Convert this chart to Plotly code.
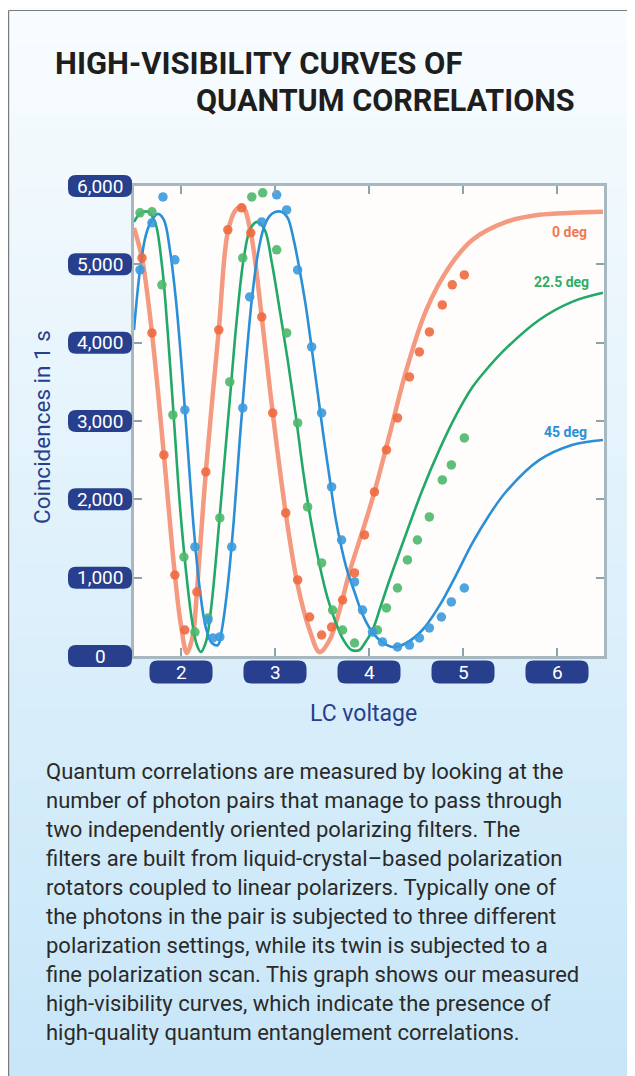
import plotly.graph_objects as go

# ---------------- data ----------------
# fitted curve, 0 deg
fit0_x = [1.50, 1.585, 1.691, 1.818, 1.935, 1.999, 2.063, 2.126, 2.169, 2.264, 2.402, 2.498, 2.583, 2.657,
          2.742, 2.859, 2.976, 3.114, 3.241, 3.368, 3.474, 3.581, 3.687, 3.793, 3.952, 4.058, 4.218, 4.398,
          4.610, 4.855, 5.099, 5.460, 5.810, 6.160, 6.489]
fit0_y = [5465, 5080, 4125, 2567, 1034, 396, 38, 268, 817, 2350, 4163, 5414, 5695, 5734,
          5402, 4329, 3103, 1826, 907, 332, 51, 204, 587, 1073, 1673, 2094, 2822, 3652,
          4418, 4968, 5312, 5542, 5632, 5657, 5670]
# measured points, 0 deg
pts0_x = [1.585, 1.691, 1.818, 1.935, 2.041, 2.169, 2.264, 2.402, 2.498, 2.646, 2.742, 2.859, 2.976, 3.114,
          3.241, 3.368, 3.496, 3.602, 3.719, 3.846, 3.952, 4.058, 4.186, 4.303, 4.430, 4.536, 4.643, 4.780,
          4.886, 5.014]
pts0_y = [5082, 4125, 2567, 1034, 332, 817, 2350, 4163, 5440, 5721, 5402, 4329, 3103, 1826,
          971, 498, 268, 370, 715, 1060, 1545, 2094, 2631, 3039, 3563, 3882, 4137, 4482,
          4738, 4865]

# fitted curve, 22.5 deg
fit22_x = [1.50, 1.574, 1.649, 1.723, 1.797, 1.861, 1.925, 1.988, 2.052, 2.116, 2.169, 2.211, 2.265, 2.318,
           2.381, 2.445, 2.519, 2.593, 2.668, 2.742, 2.816, 2.891, 2.965, 3.050, 3.135, 3.220, 3.305, 3.390,
           3.474, 3.559, 3.644, 3.729, 3.814, 3.899, 3.942, 4.037, 4.122, 4.218, 4.398, 4.568, 4.748, 4.929,
           5.099, 5.280, 5.460, 5.810, 6.160, 6.489]
fit22_y = [5542, 5657, 5670, 5542, 4993, 4099, 3014, 1928, 1098, 460, 140, 51, 179, 587,
           1354, 2248, 3269, 4291, 5082, 5466, 5542, 5440, 5031, 4418, 3780, 3078, 2311, 1673,
           1162, 741, 434, 204, 77, 77, 140, 332, 626, 970, 1571, 2120, 2631, 3080,
           3430, 3700, 3930, 4290, 4521, 4636]
# measured points, 22.5 deg
pts22_x = [1.564, 1.691, 1.797, 1.914, 2.031, 2.148, 2.286, 2.413, 2.519, 2.657, 2.753, 2.869, 3.018, 3.124,
           3.241, 3.347, 3.496, 3.613, 3.719, 3.846, 4.090, 4.186, 4.303, 4.409, 4.515, 4.642, 4.780, 4.876,
           5.014]
pts22_y = [5657, 5670, 4738, 3078, 1264, 306, 485, 1762, 3499, 5082, 5861, 5913, 5185, 4125,
           2975, 1903, 1188, 587, 332, 166, 332, 613, 868, 1226, 1481, 1775, 2248, 2439,
           2784]

# fitted curve, 45 deg
fit45_x = [1.50, 1.564, 1.627, 1.691, 1.755, 1.818, 1.882, 1.946, 2.010, 2.073, 2.137, 2.201, 2.265, 2.328,
           2.392, 2.434, 2.498, 2.562, 2.625, 2.689, 2.753, 2.816, 2.880, 2.944, 3.008, 3.071, 3.135, 3.199,
           3.262, 3.326, 3.390, 3.453, 3.517, 3.581, 3.644, 3.708, 3.772, 3.846, 3.921, 4.006, 4.112, 4.250,
           4.377, 4.568, 4.748, 4.929, 5.099, 5.280, 5.460, 5.810, 6.160, 6.489]
fit45_y = [4163, 4929, 5376, 5568, 5644, 5568, 5185, 4546, 3652, 2631, 1609, 843, 358, 166,
           140, 332, 907, 1737, 2758, 3716, 4546, 5121, 5466, 5619, 5670, 5670, 5593, 5312,
           4929, 4482, 3933, 3371, 2797, 2273, 1762, 1379, 1073, 817, 562, 358, 204, 115,
           153, 332, 640, 1040, 1440, 1800, 2100, 2500, 2694, 2758]
# measured points, 45 deg
pts45_x = [1.564, 1.691, 1.808, 1.935, 2.041, 2.148, 2.286, 2.339, 2.413, 2.540, 2.657, 2.731, 2.859, 3.018,
           3.124, 3.241, 3.390, 3.496, 3.602, 3.708, 3.846, 3.931, 4.037, 4.143, 4.303, 4.430, 4.536, 4.642,
           4.770, 4.876, 5.014]
pts45_y = [4929, 5530, 5861, 5057, 3141, 1392, 460, 230, 243, 1392, 3167, 4584, 5542, 5887,
           5695, 4929, 3946, 3103, 2158, 1481, 945, 587, 306, 179, 115, 140, 230, 358,
           498, 690, 868]

series_names = ["0 deg", "22.5 deg", "45 deg"]
label_x = [6.34, 6.36, 6.34]
label_y = [5415, 4776, 2860]

x_ticks = [2, 3, 4, 5, 6]
x_tick_labels = ["2", "3", "4", "5", "6"]
y_ticks = [0, 1000, 2000, 3000, 4000, 5000, 6000]
y_tick_labels = ["0", "1,000", "2,000", "3,000", "4,000", "5,000", "6,000"]

title_lines = ["HIGH-VISIBILITY CURVES OF", "QUANTUM CORRELATIONS"]
x_title = "LC voltage"
y_title = "Coincidences in 1 s"
caption_lines = [
    "Quantum correlations are measured by looking at the",
    "number of photon pairs that manage to pass through",
    "two independently oriented polarizing filters. The",
    "filters are built from liquid-crystal\u2013based polarization",
    "rotators coupled to linear polarizers. Typically one of",
    "the photons in the pair is subjected to three different",
    "polarization settings, while its twin is subjected to a",
    "fine polarization scan. This graph shows our measured",
    "high-visibility curves, which indicate the presence of",
    "high-quality quantum entanglement correlations.",
]

# ---------------- styling / layout ----------------
W, H = 635, 1076
OFF = 8                      # page margin offset of the rendered figure
L, R, T, B = 126, 39, 178, 428
PW, PH = W - L - R, H - T - B
X_RANGE = [1.5, 6.5]
Y_RANGE = [0, 6000]

NAVY = "#273f8c"
FONT = "Roboto"
line_colors = ["#f39a80", "#22a96a", "#2b8fd8"]
line_widths = [4.5, 2.6, 2.6]
marker_colors = ["#ee6a40", "#4cb86b", "#3b9ade"]
label_colors = ["#f07a55", "#2fae6a", "#2b8fd8"]


def px2x(sx):
    """screen x pixel -> paper x"""
    return (sx - OFF - L) / PW


def py2y(sy):
    """screen y pixel -> paper y"""
    return (H - B - (sy - OFF)) / PH


def val2paper_y(v):
    return (v - Y_RANGE[0]) / (Y_RANGE[1] - Y_RANGE[0])


fig = go.Figure()

fits = [(fit0_x, fit0_y), (fit22_x, fit22_y), (fit45_x, fit45_y)]
pts = [(pts0_x, pts0_y), (pts22_x, pts22_y), (pts45_x, pts45_y)]

for i in range(3):
    fig.add_trace(go.Scatter(x=fits[i][0], y=fits[i][1], mode="lines",
                             line=dict(color=line_colors[i], width=line_widths[i], shape="spline", smoothing=1.0),
                             showlegend=False, hoverinfo="skip"))
for i in range(3):
    fig.add_trace(go.Scatter(x=pts[i][0], y=pts[i][1], mode="markers",
                             marker=dict(color=marker_colors[i], size=9.5, opacity=0.9),
                             showlegend=False, name=series_names[i]))

shapes = []
# background gradient
N = 60
top_rgb = (248, 252, 254)
bot_rgb = (199, 230, 248)
for k in range(N):
    t = k / (N - 1)
    c = tuple(int(round(top_rgb[j] + (bot_rgb[j] - top_rgb[j]) * t)) for j in range(3))
    y0 = k * H / N + OFF
    y1 = (k + 1) * H / N + 1 + OFF
    shapes.append(dict(type="rect", xref="paper", yref="paper", layer="below",
                       x0=px2x(0), x1=px2x(W + 10), y0=py2y(y1), y1=py2y(y0),
                       line=dict(width=0), fillcolor="rgb(%d,%d,%d)" % c))
# plot area background
shapes.append(dict(type="rect", xref="paper", yref="paper", layer="below",
                   x0=0, x1=1, y0=0, y1=1, line=dict(width=0), fillcolor="#fffdfb"))
# outer frame lines
shapes.append(dict(type="line", xref="paper", yref="paper", x0=px2x(8.6), x1=px2x(W + 12),
                   y0=py2y(10.5), y1=py2y(10.5), line=dict(color="#7a7a7a", width=1.2)))
shapes.append(dict(type="line", xref="paper", yref="paper", x0=px2x(8.6), x1=px2x(8.6),
                   y0=py2y(10.5), y1=py2y(H + 12), line=dict(color="#7a7a7a", width=1.2)))


def pill(w, h, r):
    x0, x1 = -w / 2, w / 2
    y0, y1 = -h / 2, h / 2
    return ("M %f,%f L %f,%f Q %f,%f %f,%f L %f,%f Q %f,%f %f,%f L %f,%f Q %f,%f %f,%f "
            "L %f,%f Q %f,%f %f,%f Z") % (
        x0 + r, y0, x1 - r, y0, x1, y0, x1, y0 + r,
        x1, y1 - r, x1, y1, x1 - r, y1,
        x0 + r, y1, x0, y1, x0, y1 - r,
        x0, y0 + r, x0, y0, x0 + r, y0)


annotations = []
# x tick pills (centre 16 px below the axis)
for v, lab in zip(x_ticks, x_tick_labels):
    shapes.append(dict(type="path", xref="x", yref="paper", xsizemode="pixel", ysizemode="pixel",
                       xanchor=v, yanchor=py2y(672), path=pill(63, 23, 8),
                       fillcolor=NAVY, line=dict(width=0), layer="above"))
    annotations.append(dict(x=v, xref="x", y=py2y(672), yref="paper", text=lab, showarrow=False,
                            font=dict(family=FONT, size=19, color="white"), xanchor="center", yanchor="middle"))
# y tick pills (centre 34 px left of the axis)
for v, lab in zip(y_ticks, y_tick_labels):
    shapes.append(dict(type="path", xref="paper", yref="paper", xsizemode="pixel", ysizemode="pixel",
                       xanchor=px2x(100), yanchor=val2paper_y(v), path=pill(64, 22, 8),
                       fillcolor=NAVY, line=dict(width=0), layer="above"))
    annotations.append(dict(x=px2x(100), xref="paper", y=v, yref="y", text=lab, showarrow=False,
                            font=dict(family=FONT, size=19, color="white"), xanchor="center", yanchor="middle"))

# series labels
for i in range(3):
    annotations.append(dict(x=label_x[i], y=label_y[i], xref="x", yref="y", text="<b>%s</b>" % series_names[i],
                            showarrow=False, xanchor="right", yanchor="middle",
                            font=dict(family=FONT, size=14, color=label_colors[i])))

# titles
annotations.append(dict(x=px2x(53), y=py2y(64), xref="paper", yref="paper", text="<b>%s</b>" % title_lines[0],
                        showarrow=False, xanchor="left", yanchor="middle",
                        font=dict(family=FONT, size=31, color="#1e1e1e")))
annotations.append(dict(x=px2x(194), y=py2y(101), xref="paper", yref="paper", text="<b>%s</b>" % title_lines[1],
                        showarrow=False, xanchor="left", yanchor="middle",
                        font=dict(family=FONT, size=30.6, color="#1e1e1e")))
# axis titles
annotations.append(dict(x=px2x(42), y=py2y(427), xref="paper", yref="paper", text=y_title, textangle=-90,
                        showarrow=False, xanchor="center", yanchor="middle",
                        font=dict(family=FONT, size=22.5, color=NAVY)))
annotations.append(dict(x=px2x(363), y=py2y(713), xref="paper", yref="paper", text=x_title,
                        showarrow=False, xanchor="center", yanchor="middle",
                        font=dict(family=FONT, size=23, color=NAVY)))
# caption
for k, line in enumerate(caption_lines):
    annotations.append(dict(x=px2x(44), y=py2y(771 + 29 * k), xref="paper", yref="paper", text=line,
                            showarrow=False, xanchor="left", yanchor="middle",
                            font=dict(family=FONT, size=22, color="#2a2a2a")))

fig.update_layout(
    width=W, height=H,
    margin=dict(l=L, r=R, t=T, b=B, pad=0),
    paper_bgcolor="#e6f3fa",
    plot_bgcolor="rgba(0,0,0,0)",
    shapes=shapes,
    annotations=annotations,
    showlegend=False,
    xaxis=dict(range=X_RANGE, tickvals=x_ticks, showticklabels=False, ticks="inside", ticklen=8,
               tickwidth=2, tickcolor="#8ea2ad", showline=True, linecolor="#a7b8c1", linewidth=3,
               mirror="ticks", showgrid=False, zeroline=False, fixedrange=True),
    yaxis=dict(range=Y_RANGE, tickvals=y_ticks, showticklabels=False, ticks="inside", ticklen=8,
               tickwidth=2, tickcolor="#8ea2ad", showline=True, linecolor="#a7b8c1", linewidth=3,
               mirror="ticks", showgrid=False, zeroline=False, fixedrange=True),
)

fig.write_html("out.html")
